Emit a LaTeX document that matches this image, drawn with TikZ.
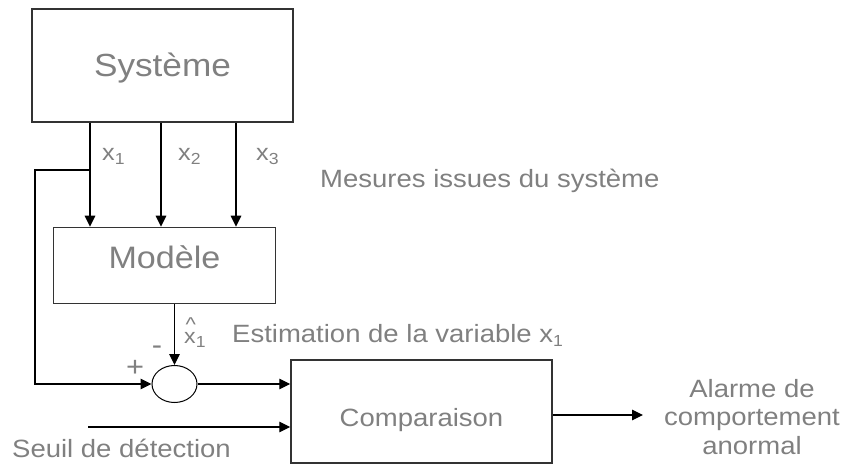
\documentclass[tikz,border=0pt]{standalone}
\usepackage{fontspec}
\setmainfont{Liberation Sans}[FakeStretch=1.1]
\usetikzlibrary{arrows.meta,shapes.geometric}
\definecolor{txt}{RGB}{128,128,128}
\newcommand\fs[2]{\fontsize{#1}{#2}\selectfont}
\newcommand\lsub[1]{\raisebox{-4pt}{\fs{16}{16}#1}}
\begin{document}
\begin{tikzpicture}[x=1pt,y=-1pt,
  box/.style={draw=black!80,line width=1.5pt,inner sep=0pt,text=txt},
  arr/.style={-{Triangle[length=11pt,width=10.5pt]},line width=1.1pt},
  lbl/.style={text=txt,inner sep=0pt}]
\useasboundingbox (0,0) rectangle (846,465);
% boxes
\node[box,minimum width=261pt,minimum height=113pt,text height=23pt,text depth=0pt,font=\fs{32}{34}] (sys) at (162.5,65.5) {Système};
\node[box,minimum width=222pt,minimum height=76pt,text height=5pt,text depth=0pt,font=\fs{31}{34}] (mod) at (164.5,265.5) {Modèle};
\node[box,minimum width=261pt,minimum height=103pt,text height=29pt,text depth=0pt,font=\fs{25}{28}] (cmp) at (421.5,411.5) {Comparaison};
\node[draw,ellipse,minimum width=45pt,minimum height=37pt,inner sep=0pt,line width=1pt] (sum) at (174.5,384) {};
% measurement arrows
\coordinate (c1) at (90,0);
\coordinate (c2) at (161,0);
\coordinate (c3) at (236,0);
\draw[arr] (c1 |- sys.south) -- (c1 |- mod.north);
\draw[arr] (c2 |- sys.south) -- (c2 |- mod.north);
\draw[arr] (c3 |- sys.south) -- (c3 |- mod.north);
% feedback of x1
\coordinate (tap) at (90,170);
\coordinate (fbc) at (35,170);
\draw[arr] (tap) -- (fbc) |- (sum.west);
% estimation
\draw[arr] (mod.south -| sum.north) -- (sum.north);
% residual to comparison
\draw[arr] (sum.east) -- (sum.east -| cmp.west);
\coordinate (seuil) at (88,427);
\draw[arr] (seuil) -- (seuil -| cmp.west);
\coordinate (alarm) at (643,415);
\draw[arr] (alarm -| cmp.east) -- (alarm);
% labels
\node[lbl,anchor=base west,font=\fs{23}{24}] (lx1) at (102,161) {x\lsub{1}};
\node[lbl,anchor=base west,font=\fs{23}{24}] (lx2) at (178,161) {x\lsub{2}};
\node[lbl,anchor=base west,font=\fs{23}{24}] (lx3) at (256,161) {x\lsub{3}};
\node[lbl,anchor=base west,font=\fs{25}{28}] (mes) at (320,188) {Mesures issues du système};
\node[lbl,anchor=base west,font=\fs{21}{22}] (xh) at (184,343) {\makebox[0pt][l]{\hspace{1.5pt}\raisebox{12pt}{\fs{20}{20}\symbol{94}}}x\lsub{1}};
\node[lbl,anchor=base west,font=\fs{25}{28}] (est) at (232,342) {Estimation de la variable x\lsub{1}};
\node[lbl,anchor=base,font=\fs{28}{30}] (minus) at (157,354) {-};
\node[lbl,anchor=base,font=\fs{28}{30}] (plus) at (135,376) {+};
\node[lbl,anchor=base west,font=\fs{25}{28}] (seuiltxt) at (12,457) {Seuil de détection};
\node[lbl,align=center,font=\fs{25}{28.5},anchor=center] (alarmtxt) at (752,417) {Alarme de\\comportement\\anormal};
\end{tikzpicture}
\end{document}
